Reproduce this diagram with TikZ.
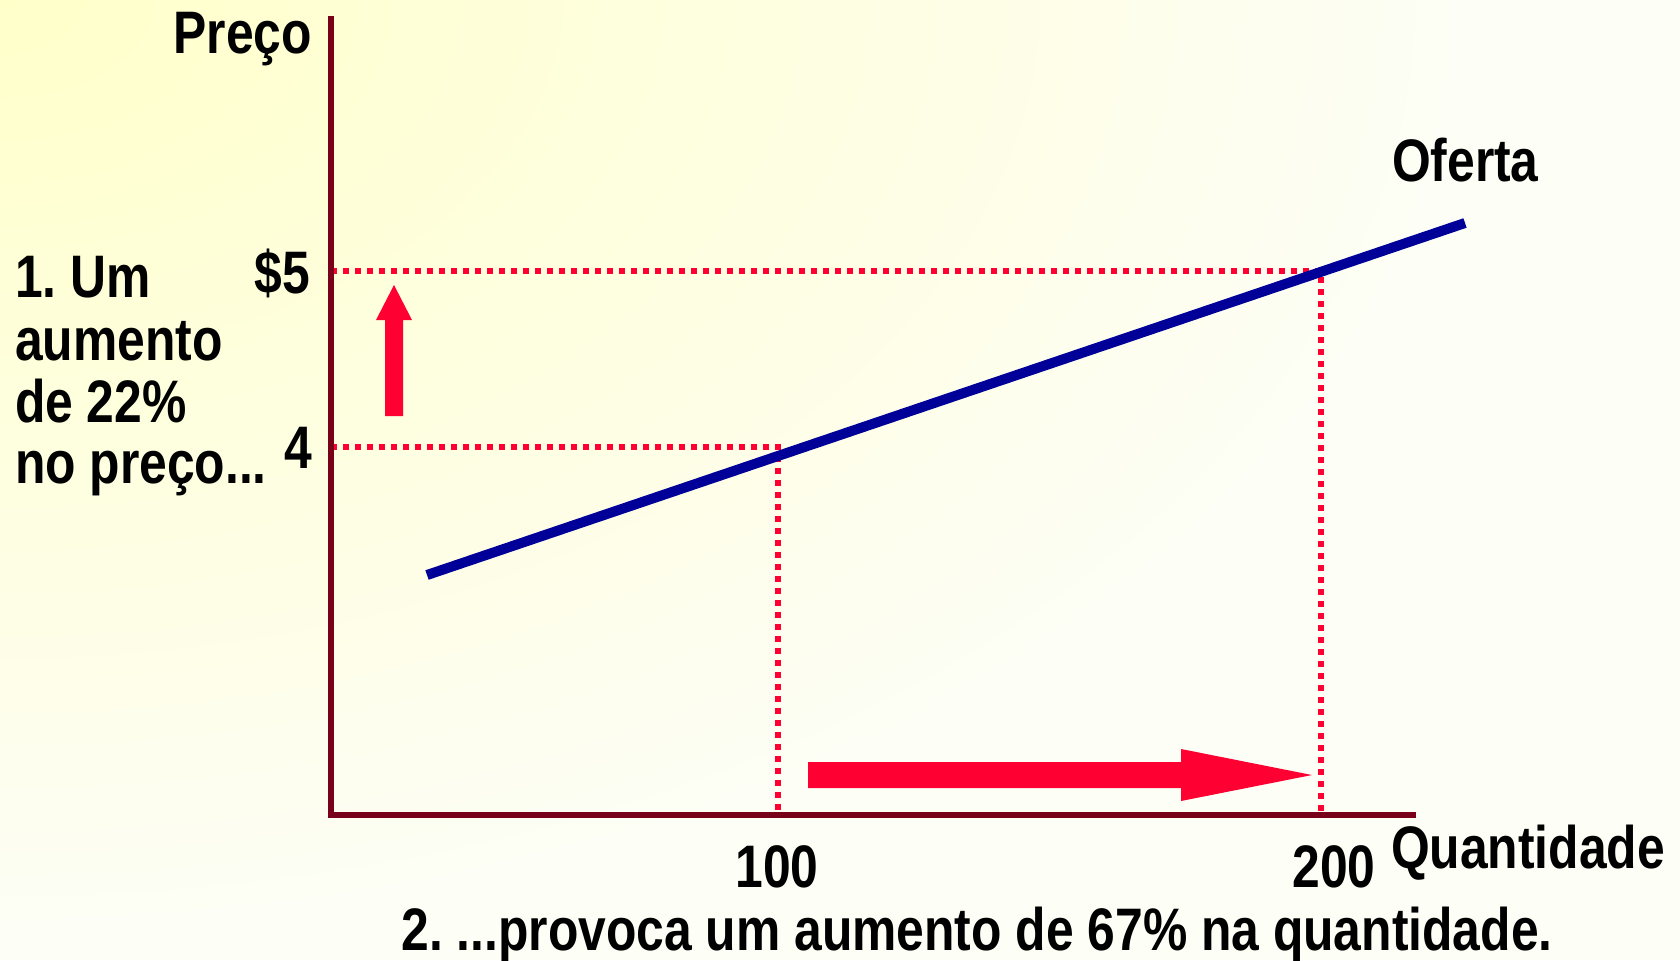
\documentclass[tikz,border=0pt]{standalone}
\usepackage{fontspec}
\setmainfont[FakeStretch=0.83]{Liberation Sans}
\usetikzlibrary{shadings}
\frenchspacing
\definecolor{axiscol}{HTML}{780018}
\definecolor{curvecol}{HTML}{000099}
\definecolor{arrred}{HTML}{FF0033}
\definecolor{bgA}{HTML}{FFFFCA}
\definecolor{bgD}{HTML}{FDFEF6}
\begin{document}
\begin{tikzpicture}[x=0.75pt,y=-0.75pt,
  lbl/.style={inner sep=0pt, outer sep=0pt, font=\fontsize{45}{46.5}\selectfont\bfseries},
  axisline/.style={draw=axiscol, line width=4.5pt, line join=miter},
  guide/.style={draw=arrred, line width=4.5pt, dash pattern=on 4.5pt off 4.5pt},
  supply/.style={draw=curvecol, line width=7.5pt},
  bigarrow/.style={fill=arrred, draw=none}]
\useasboundingbox (0,0) rectangle (1680,960);
\begin{scope}
  \clip (0,0) rectangle (1680,960);
  \fill[bgD] (0,0) rectangle (1680,960);
  \shade[inner color=bgA, outer color=bgD] (0,0) ellipse [x radius=1500, y radius=950];
\end{scope}

% coordinates
\coordinate (ytop) at (331,16);
\coordinate (O) at (331,815);
\coordinate (xend) at (1416,815);
\coordinate (p5) at (331,271);
\coordinate (p4) at (331,447);
\coordinate (c5) at (1321,271);
\coordinate (c4) at (778,447);
\coordinate (q200) at (1321,815);
\coordinate (q100) at (778,815);
\coordinate (s1) at (427,575);
\coordinate (s2) at (1465,223);

% guides
\draw[guide] (p5) -- (c5) -- (q200);
\draw[guide] (p4) -- (c4) -- (q100);

% axes
\draw[axisline] (ytop) -- (O) -- (xend);

% supply curve
\draw[supply] (s1) -- (s2);

% arrows
\fill[bigarrow] (385,416) -- (385,320) -- (376,320) -- (394,285) -- (412,320) -- (403,320) -- (403,416) -- cycle;
\fill[bigarrow] (808,762) -- (1181,762) -- (1181,749) -- (1312,775) -- (1181,801) -- (1181,788) -- (808,788) -- cycle;

% labels
\node[lbl, anchor=base east] (preco) at (312,53) {Preço};
\node[lbl, anchor=base east] (l5) at (310,293) {\$5};
\node[lbl, anchor=base east] (l4) at (312,468) {4};
\node[lbl, anchor=base west] (oferta) at (1392,181) {Oferta};
\node[lbl, anchor=base] (l100) at (777,887) {100};
\node[lbl, anchor=base] (l200) at (1334,887) {200};
\node[lbl, anchor=base west] (quant) at (1391,868) {Quantidade};
\node[lbl, anchor=base west] (n1) at (15,297) {1. Um};
\node[lbl, anchor=base west] (n2) at (15,360) {aumento};
\node[lbl, anchor=base west] (n3) at (15,422) {de 22\%};
\node[lbl, anchor=base west] (n4) at (15,483) {no preço...};
\node[lbl, anchor=base] (bottom) at (977,950) {2. ...provoca um aumento de 67\% na quantidade.};
\end{tikzpicture}
\end{document}
